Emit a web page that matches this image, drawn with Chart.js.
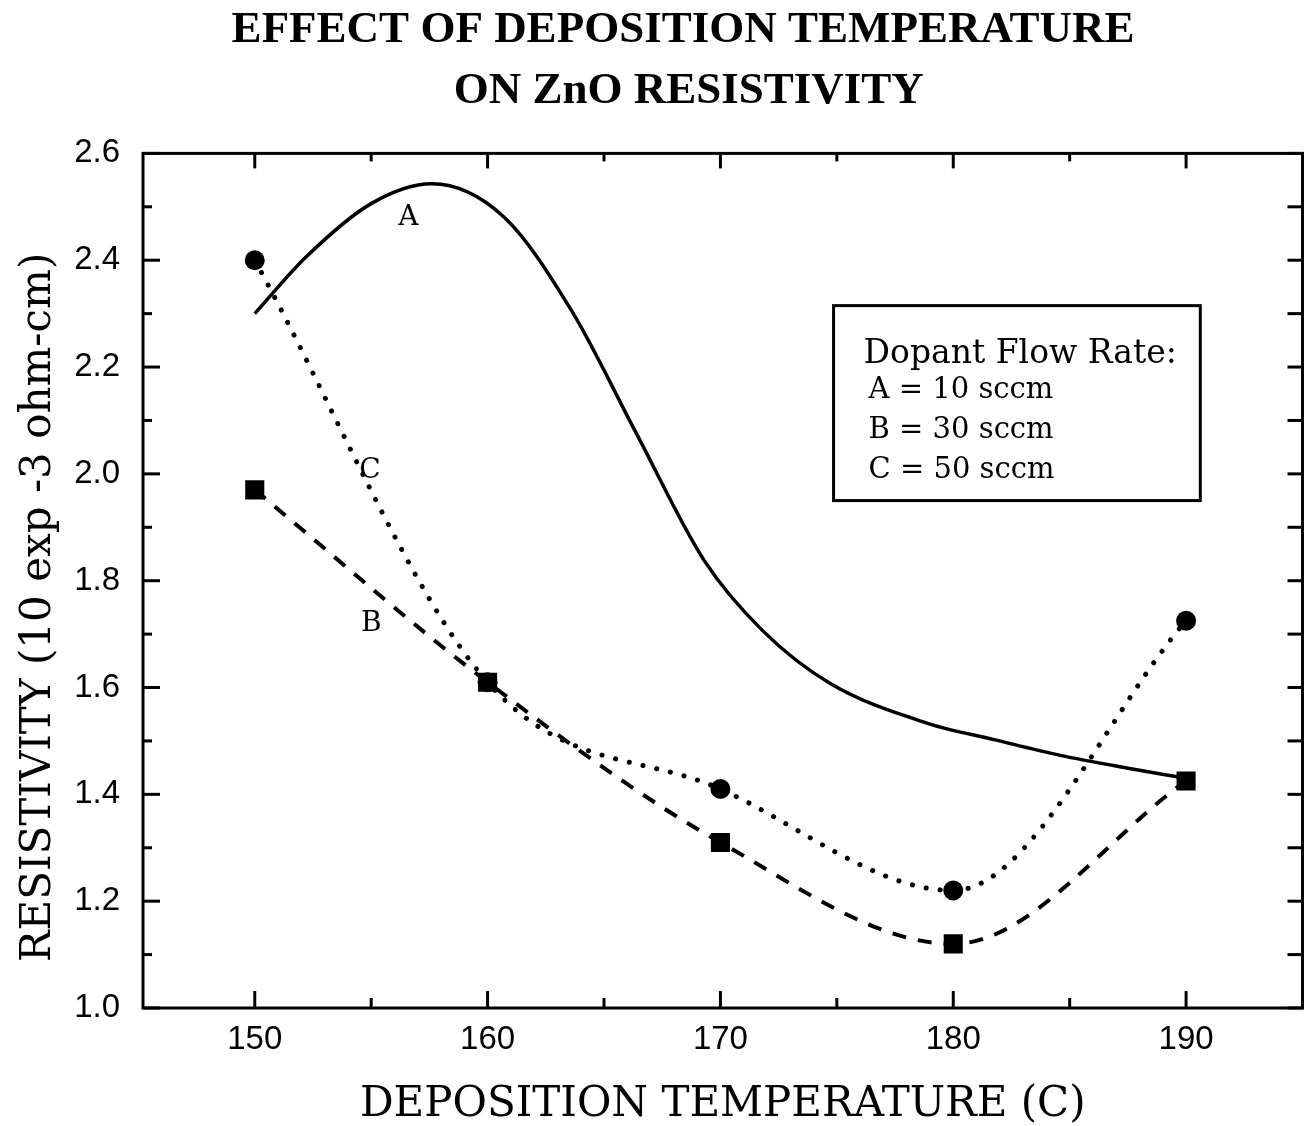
<!DOCTYPE html>
<html>
<head>
<meta charset="utf-8">
<script src="https://cdn.jsdelivr.net/npm/chart.js@4.4.1/dist/chart.umd.min.js"></script>
<style>
  html, body { margin: 0; padding: 0; background: #fff; }
</style>
</head>
<body>
<canvas id="myChart" width="1316" height="1126"></canvas>
<script>
// measured points
const temperatures = [150, 160, 170, 180, 190];
const resistivityB = [1.97, 1.61, 1.31, 1.12, 1.425];
const resistivityC = [2.40, 1.61, 1.41, 1.22, 1.725];

// curve A has no markers
const curveATemps = [150, 152.2, 155.0, 157.6, 160.7, 163.6, 166.4, 169.3, 171.8, 174.7, 178.9, 181.8, 184.6, 187.5, 190];
const curveAValues = [2.30, 2.406, 2.506, 2.543, 2.481, 2.306, 2.075, 1.838, 1.707, 1.608, 1.533, 1.502, 1.473, 1.449, 1.43];

const xTicks = [150, 160, 170, 180, 190];
const xMinorTicks = [155, 165, 175, 185];
const yTicks = [1.0, 1.2, 1.4, 1.6, 1.8, 2.0, 2.2, 2.4, 2.6];
const yMinorTicks = [1.1, 1.3, 1.5, 1.7, 1.9, 2.1, 2.3, 2.5];

const curveLabels = ['A', 'B', 'C'];
const curveLabelX = [156.6, 155.0, 154.95];
const curveLabelY = [2.48, 1.719, 2.006];

const legendLines = ['Dopant Flow Rate:', 'A = 10 sccm', 'B = 30 sccm', 'C = 50 sccm'];

const toPoints = (xs, ys) => xs.map((x, i) => ({ x: x, y: ys[i] }));
const pad = n => '\u00a0'.repeat(n);

const framePlugin = {
    id: 'frame',
    afterDatasetsDraw(chart) {
        const ctx = chart.ctx;
        const { left, top, right, bottom } = chart.chartArea;
        const x = chart.scales.x;
        const y = chart.scales.y;
        ctx.save();
        ctx.strokeStyle = '#000';
        ctx.lineWidth = 3;
        ctx.strokeRect(left, top, right - left, bottom - top);

        // inside ticks on all four sides
        const tick = (x1, y1, x2, y2) => {
            ctx.beginPath(); ctx.moveTo(x1, y1); ctx.lineTo(x2, y2); ctx.stroke();
        };
        xTicks.forEach(v => {
            const px = x.getPixelForValue(v);
            tick(px, bottom, px, bottom - 17);
            tick(px, top, px, top + 15);
        });
        xMinorTicks.forEach(v => {
            const px = x.getPixelForValue(v);
            tick(px, bottom, px, bottom - 10);
            tick(px, top, px, top + 8);
        });
        yTicks.forEach(v => {
            const py = y.getPixelForValue(v);
            tick(left, py, left + 17, py);
            tick(right, py, right - 15, py);
        });
        yMinorTicks.forEach(v => {
            const py = y.getPixelForValue(v);
            tick(left, py, left + 9, py);
            tick(right, py, right - 15, py);
        });

        // curve letters
        ctx.fillStyle = '#000';
        ctx.font = '28px "DejaVu Serif"';
        ctx.textAlign = 'center';
        ctx.textBaseline = 'middle';
        curveLabels.forEach((t, i) => {
            ctx.fillText(t, x.getPixelForValue(curveLabelX[i]), y.getPixelForValue(curveLabelY[i]));
        });

        // legend box
        const bx = x.getPixelForValue(174.86);
        const by = y.getPixelForValue(2.315);
        const bw = x.getPixelForValue(190.61) - bx;
        const bh = y.getPixelForValue(1.95) - by;
        ctx.fillStyle = '#fff';
        ctx.fillRect(bx, by, bw, bh);
        ctx.lineWidth = 3;
        ctx.strokeRect(bx, by, bw, bh);
        ctx.fillStyle = '#000';
        ctx.textAlign = 'left';
        ctx.textBaseline = 'alphabetic';
        ctx.font = '33px "DejaVu Serif"';
        ctx.fillText(legendLines[0], bx + 30, by + 57);
        ctx.font = '29px "DejaVu Serif"';
        ctx.fillText(legendLines[1], bx + 35, by + 92);
        ctx.fillText(legendLines[2], bx + 35, by + 132);
        ctx.fillText(legendLines[3], bx + 35, by + 172);
        ctx.restore();
    }
};

const ctx = document.getElementById('myChart').getContext('2d');
const chart = new Chart(ctx, {
    type: 'line',
    data: {
        datasets: [
            {
                label: 'A',
                data: toPoints(curveATemps, curveAValues),
                borderColor: '#000',
                borderWidth: 3.5,
                pointRadius: 0,
                cubicInterpolationMode: 'monotone',
                fill: false
            },
            {
                label: 'B',
                data: toPoints(temperatures, resistivityB),
                borderColor: '#000',
                borderWidth: 4,
                borderDash: [14, 12],
                pointStyle: 'rect',
                pointRadius: 13.5,
                pointBackgroundColor: '#000',
                pointBorderWidth: 0,
                cubicInterpolationMode: 'monotone',
                fill: false
            },
            {
                label: 'C',
                data: toPoints(temperatures, resistivityC),
                borderColor: '#000',
                borderWidth: 5,
                borderDash: [0.1, 14],
                borderCapStyle: 'round',
                pointStyle: 'circle',
                pointRadius: 10,
                pointBackgroundColor: '#000',
                pointBorderWidth: 0,
                cubicInterpolationMode: 'monotone',
                fill: false
            }
        ]
    },
    options: {
        responsive: false,
        animation: false,
        devicePixelRatio: 1,
        layout: { padding: { left: 0, right: 6, top: 0, bottom: 0 } },
        plugins: {
            legend: { display: false },
            tooltip: { enabled: false },
            title: {
                display: true,
                text: [pad(5) + 'EFFECT OF DEPOSITION TEMPERATURE', pad(6) + 'ON ZnO RESISTIVITY'],
                color: '#000',
                font: { family: '"Liberation Serif"', size: 45, weight: 'bold', lineHeight: 1.36 },
                padding: { top: 0, bottom: 31 }
            }
        },
        scales: {
            x: {
                type: 'linear',
                min: 145.2,
                max: 195,
                afterBuildTicks: s => { s.ticks = xTicks.map(v => ({ value: v })); },
                afterFit: s => { s.height = 118; },
                grid: { display: false, drawTicks: false, tickLength: 0 },
                border: { display: false },
                ticks: {
                    color: '#000',
                    padding: 12,
                    maxRotation: 0,
                    font: { family: '"Liberation Sans"', size: 33 },
                    callback: v => String(v)
                },
                title: {
                    display: true,
                    text: 'DEPOSITION TEMPERATURE (C)',
                    color: '#000',
                    font: { family: '"DejaVu Serif"', size: 42, lineHeight: 1 },
                    padding: { top: 0, bottom: 0 }
                }
            },
            y: {
                min: 1.0,
                max: 2.6,
                afterBuildTicks: s => { s.ticks = yTicks.map(v => ({ value: v })); },
                afterFit: s => { s.width = 143; },
                grid: { display: false, drawTicks: false, tickLength: 0 },
                border: { display: false },
                ticks: {
                    color: '#000',
                    padding: 23,
                    font: { family: '"Liberation Sans"', size: 33 },
                    callback: v => Number(v).toFixed(1)
                },
                title: {
                    display: true,
                    text: 'RESISTIVITY (10 exp -3 ohm-cm)' + pad(4),
                    color: '#000',
                    font: { family: '"DejaVu Serif"', size: 42, lineHeight: 1 },
                    padding: { top: 18, bottom: 0 }
                }
            }
        }
    },
    plugins: [framePlugin]
});
</script>
</body>
</html>
